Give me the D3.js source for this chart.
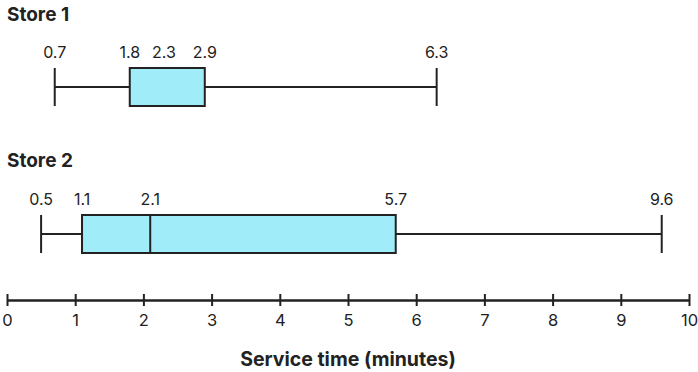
<!DOCTYPE html>
<html>
<head>
<meta charset="utf-8">
<script src="https://cdn.jsdelivr.net/npm/d3@7"></script>
<style>
  body { margin: 0; background: #fff; }
  svg { display: block; font-family: Inter, "Noto Sans", sans-serif; }
</style>
</head>
<body>
<div id="chart"></div>
<script>
// five-number summaries
const stores = ["Store 1", "Store 2"];
const mins = [0.7, 0.5];
const q1s = [1.8, 1.1];
const medians = [2.3, 2.1];
const q3s = [2.9, 5.7];
const maxs = [6.3, 9.6];
const medianLine = [false, true]; // the reference draws no median bar for store 1
const axisTicks = [0, 1, 2, 3, 4, 5, 6, 7, 8, 9, 10];
const axisTitle = "Service time (minutes)";

const width = 698, height = 372;
const ink = "#222";

const svg = d3.select("#chart").append("svg")
    .attr("width", width)
    .attr("height", height);

const x = d3.scaleLinear().domain([0, 10]).range([7, 689]);

// vertical layout per store
const titleY = [21, 167];
const midY = [87, 234];
const boxH = 38;

stores.forEach((name, i) => {
    const g = svg.append("g");
    const cy = midY[i];

    g.append("text")
        .attr("x", 7)
        .attr("y", titleY[i])
        .attr("font-size", 19)
        .attr("font-weight", 700)
        .attr("fill", ink)
        .text(name);

    // whisker line
    g.append("line")
        .attr("x1", x(mins[i])).attr("x2", x(maxs[i]))
        .attr("y1", cy).attr("y2", cy)
        .attr("stroke", ink).attr("stroke-width", 2);

    // end caps
    [mins[i], maxs[i]].forEach(v => {
        g.append("line")
            .attr("x1", x(v)).attr("x2", x(v))
            .attr("y1", cy - boxH / 2).attr("y2", cy + boxH / 2)
            .attr("stroke", ink).attr("stroke-width", 2);
    });

    g.append("rect")
        .attr("x", x(q1s[i]))
        .attr("y", cy - boxH / 2)
        .attr("width", x(q3s[i]) - x(q1s[i]))
        .attr("height", boxH)
        .attr("fill", "#a0ecf8")
        .attr("stroke", ink).attr("stroke-width", 2);

    if (medianLine[i]) {
        g.append("line")
            .attr("x1", x(medians[i])).attr("x2", x(medians[i]))
            .attr("y1", cy - boxH / 2).attr("y2", cy + boxH / 2)
            .attr("stroke", ink).attr("stroke-width", 2);
    }

    const vals = [mins[i], q1s[i], medians[i], q3s[i], maxs[i]];
    g.selectAll("text.val")
        .data(vals)
        .join("text")
        .attr("class", "val")
        .attr("x", d => x(d))
        .attr("y", cy - boxH / 2 - 10)
        .attr("text-anchor", "middle")
        .attr("font-size", 16)
        .attr("fill", ink)
        .text(d => d.toFixed(1));
});

// bottom axis
const axis = svg.append("g")
    .attr("transform", "translate(0,300)")
    .call(d3.axisBottom(x).tickValues(axisTicks).tickSizeInner(6).tickSizeOuter(0).tickPadding(8));
axis.select(".domain").attr("stroke", ink).attr("stroke-width", 2.5);
axis.selectAll(".tick line")
    .attr("y1", -6)
    .attr("stroke", ink).attr("stroke-width", 2);
axis.selectAll(".tick text")
    .attr("dy", null)
    .attr("y", 26)
    .attr("font-size", 16.5)
    .attr("font-family", "Inter, 'Noto Sans', sans-serif")
    .attr("fill", ink);

svg.append("text")
    .attr("x", x(5))
    .attr("y", 366)
    .attr("text-anchor", "middle")
    .attr("font-size", 19.5)
    .attr("font-weight", 700)
    .attr("fill", ink)
    .text(axisTitle);
</script>
</body>
</html>
